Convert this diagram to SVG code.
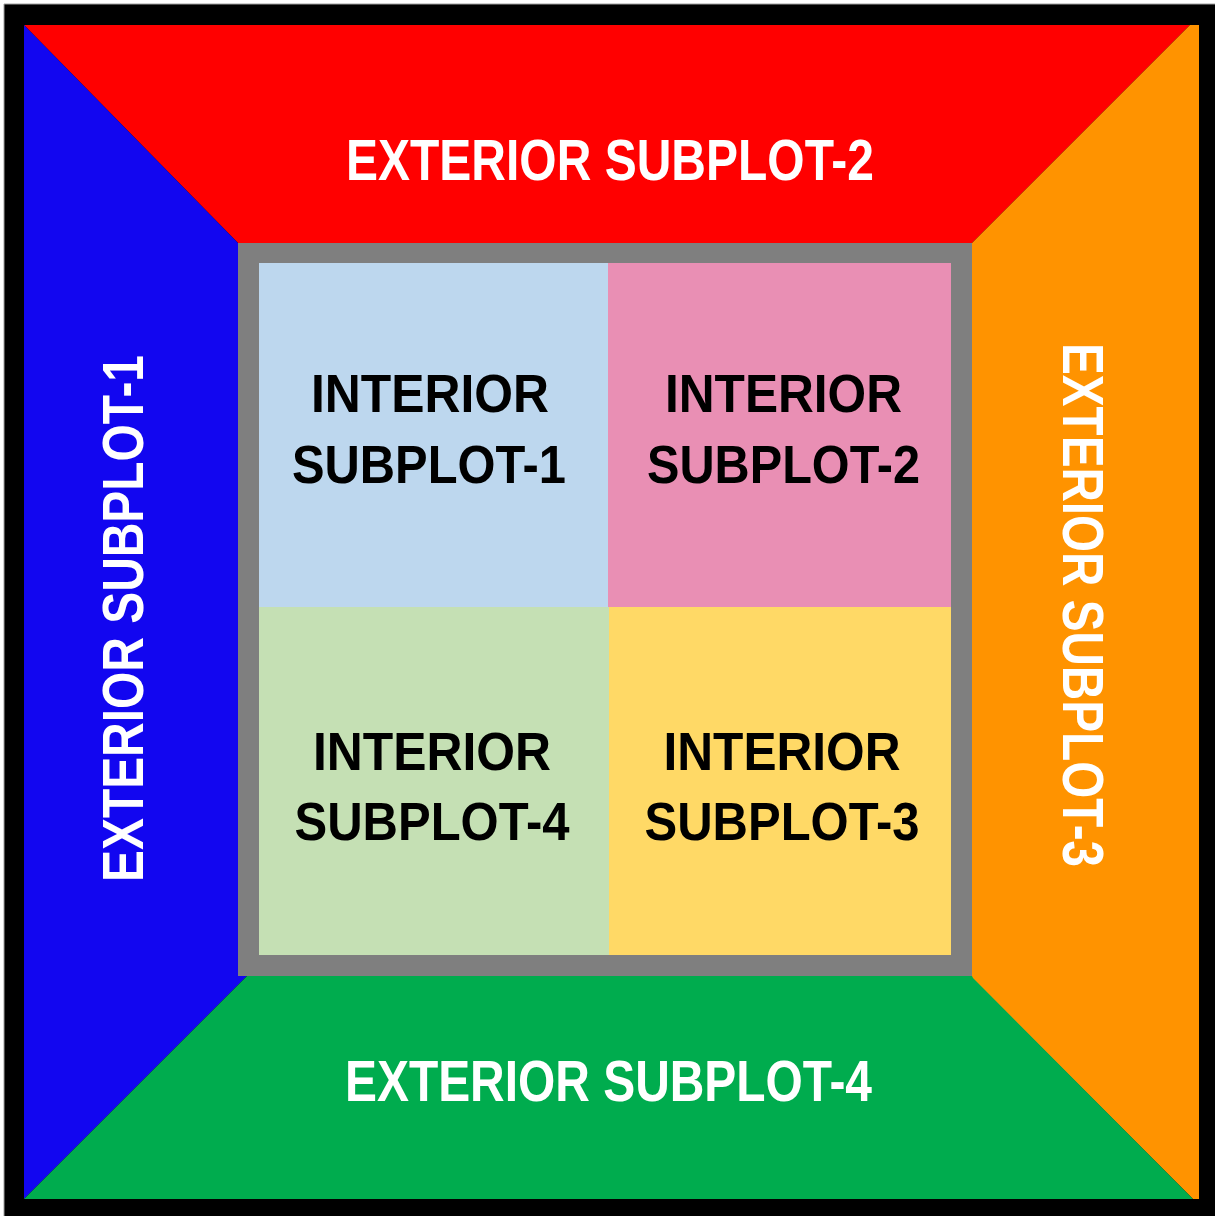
<svg xmlns="http://www.w3.org/2000/svg" width="1215" height="1216" viewBox="0 0 1215 1216">
  <style>
    .ext { font-family: "Liberation Sans", Arial, sans-serif; font-weight: bold; font-size: 58px; fill: #FFFFFF; }
    .int { font-family: "Liberation Sans", Arial, sans-serif; font-weight: bold; font-size: 54px; fill: #000000; text-anchor: middle; }
  </style>
  <rect x="0" y="0" width="1215" height="1216" fill="#FFFFFF"/>
  <rect x="4" y="4" width="1211" height="1212" fill="#000000"/>
  <line x1="4" y1="4" x2="1215" y2="4" stroke="#A0A0A0" stroke-width="1"/>
  <line x1="4" y1="4" x2="4" y2="1216" stroke="#A0A0A0" stroke-width="1"/>

  <g id="exterior-subplot-2">
    <polygon points="24,25 1190,25 972,243 238,243" fill="#FF0000"/>
    <text class="ext" x="346" y="180" textLength="528" lengthAdjust="spacingAndGlyphs">EXTERIOR SUBPLOT-2</text>
  </g>
  <g id="exterior-subplot-3">
    <polygon points="1190,25 1199,25 1199,1199 1193,1199 972,978 972,243" fill="#FF9300"/>
    <text class="ext" transform="translate(1063,343) rotate(90)" x="0" y="0" textLength="524" lengthAdjust="spacingAndGlyphs">EXTERIOR SUBPLOT-3</text>
  </g>
  <g id="exterior-subplot-1">
    <polygon points="24,25 238,243 238,976 247,976 24,1199" fill="#1206F0"/>
    <text class="ext" transform="translate(143,882) rotate(-90)" x="0" y="0" textLength="527" lengthAdjust="spacingAndGlyphs">EXTERIOR SUBPLOT-1</text>
  </g>
  <g id="exterior-subplot-4">
    <polygon points="24,1199 247,976 972,976 973,978 1193,1199" fill="#00AC4E"/>
    <text class="ext" x="345" y="1101" textLength="527" lengthAdjust="spacingAndGlyphs">EXTERIOR SUBPLOT-4</text>
  </g>

  <g id="interior-frame">
    <rect x="238" y="243" width="734" height="733" fill="#7F7F7F"/>
  </g>
  <g id="interior-subplot-1">
    <rect x="259" y="263" width="349" height="344" fill="#BDD7EE"/>
    <text class="int" x="430" y="412" textLength="238" lengthAdjust="spacingAndGlyphs">INTERIOR</text>
    <text class="int" x="429" y="483" textLength="274" lengthAdjust="spacingAndGlyphs">SUBPLOT-1</text>
  </g>
  <g id="interior-subplot-2">
    <rect x="608" y="263" width="343" height="344" fill="#E98FB4"/>
    <text class="int" x="783.5" y="412" textLength="237" lengthAdjust="spacingAndGlyphs">INTERIOR</text>
    <text class="int" x="783.5" y="483" textLength="273" lengthAdjust="spacingAndGlyphs">SUBPLOT-2</text>
  </g>
  <g id="interior-subplot-4">
    <rect x="259" y="607" width="350" height="348" fill="#C5E0B4"/>
    <text class="int" x="432" y="770" textLength="238" lengthAdjust="spacingAndGlyphs">INTERIOR</text>
    <text class="int" x="432" y="840" textLength="275" lengthAdjust="spacingAndGlyphs">SUBPLOT-4</text>
  </g>
  <g id="interior-subplot-3">
    <rect x="609" y="607" width="342" height="348" fill="#FFD966"/>
    <text class="int" x="782" y="770" textLength="237" lengthAdjust="spacingAndGlyphs">INTERIOR</text>
    <text class="int" x="782" y="840" textLength="275" lengthAdjust="spacingAndGlyphs">SUBPLOT-3</text>
  </g>
  <g id="connectors"/>
</svg>
